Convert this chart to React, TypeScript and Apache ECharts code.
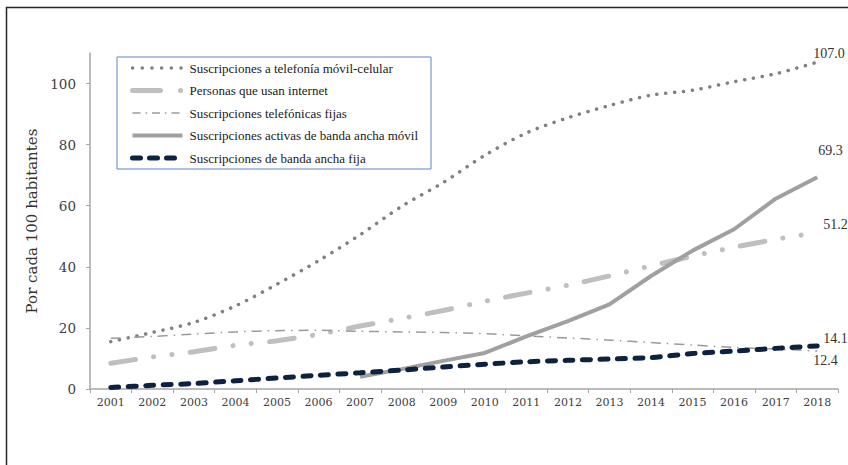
import React, { useEffect, useRef } from "react";
import * as echarts from "echarts";

const years = ["2001","2002","2003","2004","2005","2006","2007","2008","2009","2010","2011","2012","2013","2014","2015","2016","2017","2018"];
const movilCelular = [15.5, 18.5, 21.8, 27.2, 34.3, 42.0, 50.5, 59.8, 67.6, 76.5, 83.8, 88.8, 92.8, 96.2, 97.8, 100.6, 103.2, 107.0];
const internet = [8.4, 10.5, 12.2, 14.3, 15.8, 17.9, 20.6, 23.1, 25.7, 28.7, 31.4, 34.0, 37.0, 40.3, 43.5, 46.4, 49.0, 51.2];
const telFija = [16.6, 17.2, 18.0, 18.7, 19.1, 19.2, 18.9, 18.7, 18.5, 18.1, 17.4, 16.7, 16.0, 15.2, 14.4, 13.6, 13.1, 12.4];
const bandaMovil = [null, null, null, null, null, null, 4.0, 6.5, 9.2, 11.8, 17.2, 22.2, 27.7, 37.0, 45.3, 52.3, 62.3, 69.3];
const bandaFija = [0.5, 1.2, 1.8, 2.7, 3.6, 4.5, 5.3, 6.2, 7.2, 8.1, 8.9, 9.4, 9.8, 10.3, 11.6, 12.4, 13.3, 14.1];

const names = [
  "Suscripciones a telefonía móvil-celular",
  "Personas que usan internet",
  "Suscripciones telefónicas fijas",
  "Suscripciones activas de banda ancha móvil",
  "Suscripciones de banda ancha fija",
];

const serif = "'Liberation Serif', 'Times New Roman', serif";
const wideSerif = "'DejaVu Serif', serif";

export default function App() {
  const ref = useRef<HTMLDivElement>(null);
  useEffect(() => {
    document.body.style.margin = "0";
    document.body.style.overflow = "hidden";
    const chart = echarts.init(ref.current!, null, { renderer: "svg" });
    const endLabel = (offset: number[]) => ({
      show: true,
      distance: 0,
      offset,
      color: "#333",
      fontFamily: serif,
      fontSize: 14,
      formatter: (p: any) => Number(p.value).toFixed(1),
    });
    const hiddenSymbol = { color: "rgba(0,0,0,0)", borderWidth: 0, opacity: 0 };
    chart.setOption({
      animation: false,
      backgroundColor: "#fff",
      graphic: [
        {
          type: "rect",
          shape: { x: 6.5, y: 7.5, width: 900, height: 500 },
          style: { fill: "none", stroke: "#262626", lineWidth: 1.5 },
          silent: true,
        },
      ],
      grid: { left: 90, right: 10, top: 53, bottom: 76, containLabel: false },
      legend: {
        orient: "vertical",
        left: 117,
        top: 57,
        padding: [4, 13, 4, 13],
        itemGap: 8.5,
        itemWidth: 50,
        itemHeight: 10,
        backgroundColor: "#fff",
        borderColor: "#5b83c7",
        borderWidth: 1,
        borderRadius: 0,
        itemStyle: hiddenSymbol,
        textStyle: { fontFamily: serif, fontSize: 13, lineHeight: 14, color: "#1a1a1a", padding: [0, 0, 0, 2] },
        data: [
          { name: names[0], itemStyle: hiddenSymbol, lineStyle: { color: "#808080", width: 3.5, type: [0.1, 9.6], cap: "round" } },
          { name: names[1], itemStyle: hiddenSymbol, lineStyle: { color: "#bfbfbf", width: 5, type: [28, 20, 0.1, 20], cap: "round" } },
          { name: names[2], itemStyle: hiddenSymbol, lineStyle: { color: "#9a9a9a", width: 1.5, type: [8, 5, 1.5, 5] } },
          { name: names[3], itemStyle: hiddenSymbol, lineStyle: { color: "#a0a0a0", width: 4, type: "solid" } },
          { name: names[4], itemStyle: hiddenSymbol, lineStyle: { color: "#0d2240", width: 5, type: [8, 9], cap: "round" } },
        ],
      },
      xAxis: {
        type: "category",
        data: years,
        boundaryGap: true,
        axisLine: { lineStyle: { color: "#a6a6a6", width: 1.5 } },
        axisTick: { show: true, length: 4, lineStyle: { color: "#a6a6a6" } },
        axisLabel: { fontFamily: wideSerif, fontSize: 11, color: "#404040", margin: 8 },
      },
      yAxis: {
        type: "value",
        min: 0,
        max: 110,
        interval: 20,
        name: "Por cada 100 habitantes",
        nameLocation: "middle",
        nameGap: 49,
        nameTextStyle: { fontFamily: wideSerif, fontSize: 15, color: "#333" },
        splitLine: { show: false },
        axisLine: { show: true, lineStyle: { color: "#a6a6a6", width: 1.5 } },
        axisTick: { show: true, length: 4, lineStyle: { color: "#a6a6a6" } },
        axisLabel: { fontFamily: wideSerif, fontSize: 13.5, color: "#404040", margin: 14, showMaxLabel: false },
      },
      series: [
        {
          name: names[0],
          type: "line",
          data: movilCelular,
          smooth: 0.3,
          showSymbol: false,
          symbol: "none",
          lineStyle: { color: "#808080", width: 3.5, type: [0.1, 8.8], cap: "round" },
          itemStyle: { color: "#808080" },
          endLabel: endLabel([-4, -9]),
        },
        {
          name: names[1],
          type: "line",
          data: internet,
          smooth: 0.3,
          showSymbol: false,
          symbol: "none",
          lineStyle: { color: "#bfbfbf", width: 5, type: [25, 18.3, 0.1, 18.3, 0.1, 18.3], cap: "round" },
          itemStyle: { color: "#bfbfbf" },
          endLabel: endLabel([6, -8]),
        },
        {
          name: names[2],
          type: "line",
          data: telFija,
          smooth: 0.3,
          showSymbol: false,
          symbol: "none",
          lineStyle: { color: "#9a9a9a", width: 1.5, type: [10, 6, 1.5, 6] },
          itemStyle: { color: "#9a9a9a" },
          endLabel: endLabel([-4, 9]),
        },
        {
          name: names[3],
          type: "line",
          data: bandaMovil,
          showSymbol: false,
          symbol: "none",
          lineStyle: { color: "#a0a0a0", width: 4, type: "solid" },
          itemStyle: { color: "#a0a0a0" },
          endLabel: endLabel([1, -27]),
        },
        {
          name: names[4],
          type: "line",
          data: bandaFija,
          smooth: 0.3,
          showSymbol: false,
          symbol: "none",
          lineStyle: { color: "#0d2240", width: 5, type: [8, 9.5], cap: "round" },
          itemStyle: { color: "#0d2240" },
          endLabel: endLabel([6, -7]),
        },
      ],
    });
    return () => chart.dispose();
  }, []);
  return <div ref={ref} style={{ width: 848, height: 465 }} />;
}
